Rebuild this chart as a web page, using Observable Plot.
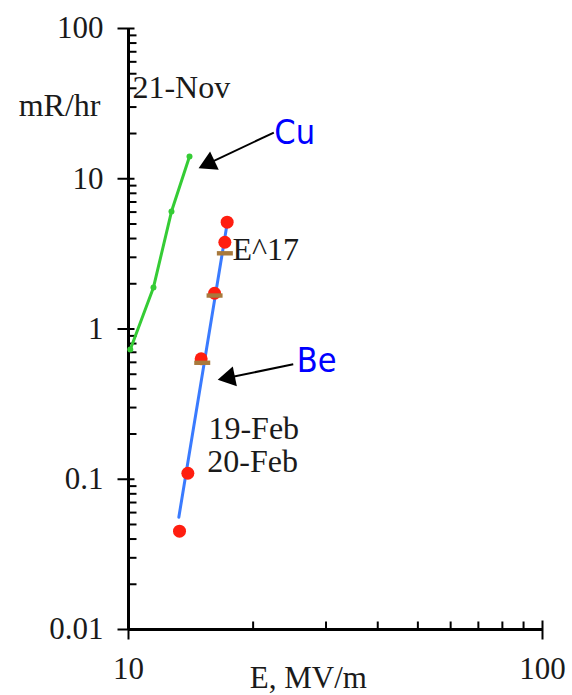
<!DOCTYPE html>
<html>
<head>
<meta charset="utf-8">
<script src="https://cdn.jsdelivr.net/npm/d3@7"></script>
<script src="https://cdn.jsdelivr.net/npm/@observablehq/plot@0.6"></script>
<style>
  html, body { margin: 0; padding: 0; background: #fff; }
  #chart svg { display: block; }
</style>
</head>
<body>
<div id="chart"></div>
<script>
// ---- data ----
const cuField = [10.1, 11.49, 12.70, 14.04];          // E, MV/m  (Cu, 21-Nov)
const cuRate  = [0.73, 1.89, 6.05, 14.06];             // mR/hr

const beField = [17.31, 17.09, 16.14, 14.98, 13.91, 13.28];   // Be, 19-Feb (red)
const beRate  = [5.14, 3.78, 1.73, 0.634, 0.1096, 0.0451];

const be2Field = [17.09, 16.14, 15.07];                // Be, 20-Feb (brown)
const be2Rate  = [3.19, 1.67, 0.596];

const fitField = [13.23, 17.31];                       // E^17 fit
const fitRate  = [0.0559, 5.03];

const xDomain = [10, 100];
const yDomain = [0.01, 100];
const xMajor = [10, 100];
const xMajorLabels = ["10", "100"];
const xMinor = [20, 30, 40, 50, 60, 70, 80, 90];
const yMajor = [0.01, 0.1, 1, 10, 100];
const yMajorLabels = ["0.01", "0.1", "1", "10", "100"];
const yMinor = [0.01, 0.1, 1, 10].flatMap(d => [2,3,4,5,6,7,8,9].map(k => +(d * k).toPrecision(3)));

const noteText  = ["21-Nov", "E^17", "19-Feb", "20-Feb"];
const noteField = [10.22, 17.83, 15.6, 15.5];
const noteRate  = [34.7, 2.857, 0.184, 0.1114];

const tagText  = ["Cu", "Be"];
const tagField = [22.5, 25.5];
const tagRate  = [17.16, 0.521];

const arrowFromField = [22.44, 25.0];
const arrowFromRate  = [20.3, 0.5826];
const arrowToField   = [15.66, 17.5];
const arrowToRate    = [12.69, 0.4756];

const yLabel = "mR/hr";
const xLabel = "E, MV/m";

// ---- layout ----
const W = 572, H = 695;
const mL = 128, mR = 30, mT = 28, mB = 66;

const cu = cuField.map((x, i) => ({x, y: cuRate[i]}));
const be = beField.map((x, i) => ({x, y: beRate[i]}));
const be2 = be2Field.map((x, i) => ({x, y: be2Rate[i]}));
const fit = fitField.map((x, i) => ({x, y: fitRate[i]}));
const notes = noteText.map((t, i) => ({t, x: noteField[i], y: noteRate[i]}));
const tags = tagText.map((t, i) => ({t, x: tagField[i], y: tagRate[i]}));

// same mapping Plot uses, to orient the arrow heads
const sx = d3.scaleLog(xDomain, [mL, W - mR]);
const sy = d3.scaleLog(yDomain, [H - mB, mT]);
const arrows = arrowFromField.map((x1, i) => {
  const x2 = arrowToField[i], y1 = arrowFromRate[i], y2 = arrowToRate[i];
  const dx = sx(x2) - sx(x1), dy = sy(y2) - sy(y1);
  return {x1, y1, x2, y2, rot: Math.atan2(dx, -dy) * 180 / Math.PI};
});

const hTick = (a, b) => ({draw(c) { c.moveTo(a, 0); c.lineTo(b, 0); }});
const vTick = (a, b) => ({draw(c) { c.moveTo(0, a); c.lineTo(0, b); }});
const dash = {draw(c) { c.rect(-8, -2.2, 16, 4.4); }};

const X0 = () => xDomain[0];
const Y0 = () => yDomain[0];
const ink = "#1a1a1a";
const serif = "'Liberation Serif', 'Times New Roman', serif";

const chart = Plot.plot({
  width: W, height: H,
  marginLeft: mL, marginRight: mR, marginTop: mT, marginBottom: mB,
  style: {background: "#fff", fontFamily: serif, overflow: "visible"},
  x: {type: "log", domain: xDomain, axis: null},
  y: {type: "log", domain: yDomain, axis: null},
  marks: [
    // axes
    Plot.dot(yMinor, {x: X0, y: d => d, symbol: hTick(0, 8), fill: "none", stroke: "#000", strokeWidth: 2}),
    Plot.dot(yMajor, {x: X0, y: d => d, symbol: hTick(-11, 6), fill: "none", stroke: "#000", strokeWidth: 2}),
    Plot.dot(xMinor, {x: d => d, y: Y0, symbol: vTick(0, -8), fill: "none", stroke: "#000", strokeWidth: 2}),
    Plot.dot(xMajor, {x: d => d, y: Y0, symbol: vTick(-9, 10), fill: "none", stroke: "#000", strokeWidth: 2}),
    Plot.ruleX([xDomain[0]], {stroke: "#000", strokeWidth: 3}),
    Plot.ruleY([yDomain[0]], {stroke: "#000", strokeWidth: 3}),
    Plot.text(yMajor, {x: X0, y: d => d, text: (d, i) => yMajorLabels[i], textAnchor: "end", dx: -25, fontSize: 31, fill: ink}),
    Plot.text(xMajor, {x: d => d, y: Y0, text: (d, i) => xMajorLabels[i], lineAnchor: "bottom", dy: 49, fontSize: 31, fill: ink}),
    Plot.text([yLabel], {x: X0, y: () => 26, text: d => d, textAnchor: "end", lineAnchor: "bottom", dx: -28, fontSize: 32, fill: ink}),
    Plot.text([xLabel], {x: () => 27.2, y: Y0, text: d => d, lineAnchor: "bottom", dy: 58, fontSize: 31, fill: ink}),
    // data
    Plot.line(cu, {x: "x", y: "y", stroke: "#35cc35", strokeWidth: 3}),
    Plot.dot(cu, {x: "x", y: "y", r: 3, fill: "#35cc35"}),
    Plot.line(fit, {x: "x", y: "y", stroke: "#3a7bff", strokeWidth: 3}),
    Plot.dot(be, {x: "x", y: "y", r: 6.5, fill: "#ff1e10"}),
    Plot.dot(be2, {x: "x", y: "y", symbol: dash, fill: "#a8793c", stroke: "none"}),
    // annotations
    Plot.text(notes, {x: "x", y: "y", text: "t", textAnchor: "start", lineAnchor: "bottom", fontSize: 32, fill: ink}),
    Plot.link(arrows, {x1: "x1", y1: "y1", x2: "x2", y2: "y2", stroke: "#000", strokeWidth: 2}),
    Plot.dot(arrows, {x: "x2", y: "y2", symbol: "triangle", r: 7.5, rotate: "rot", fill: "#000", stroke: "none"}),
    Plot.text(tags, {x: "x", y: "y", text: "t", textAnchor: "start", lineAnchor: "bottom", fontSize: 34,
      fontFamily: "'DejaVu Sans Condensed', 'DejaVu Sans', sans-serif", fill: "#0000ff"})
  ]
});
document.getElementById("chart").appendChild(chart);
</script>
</body>
</html>
